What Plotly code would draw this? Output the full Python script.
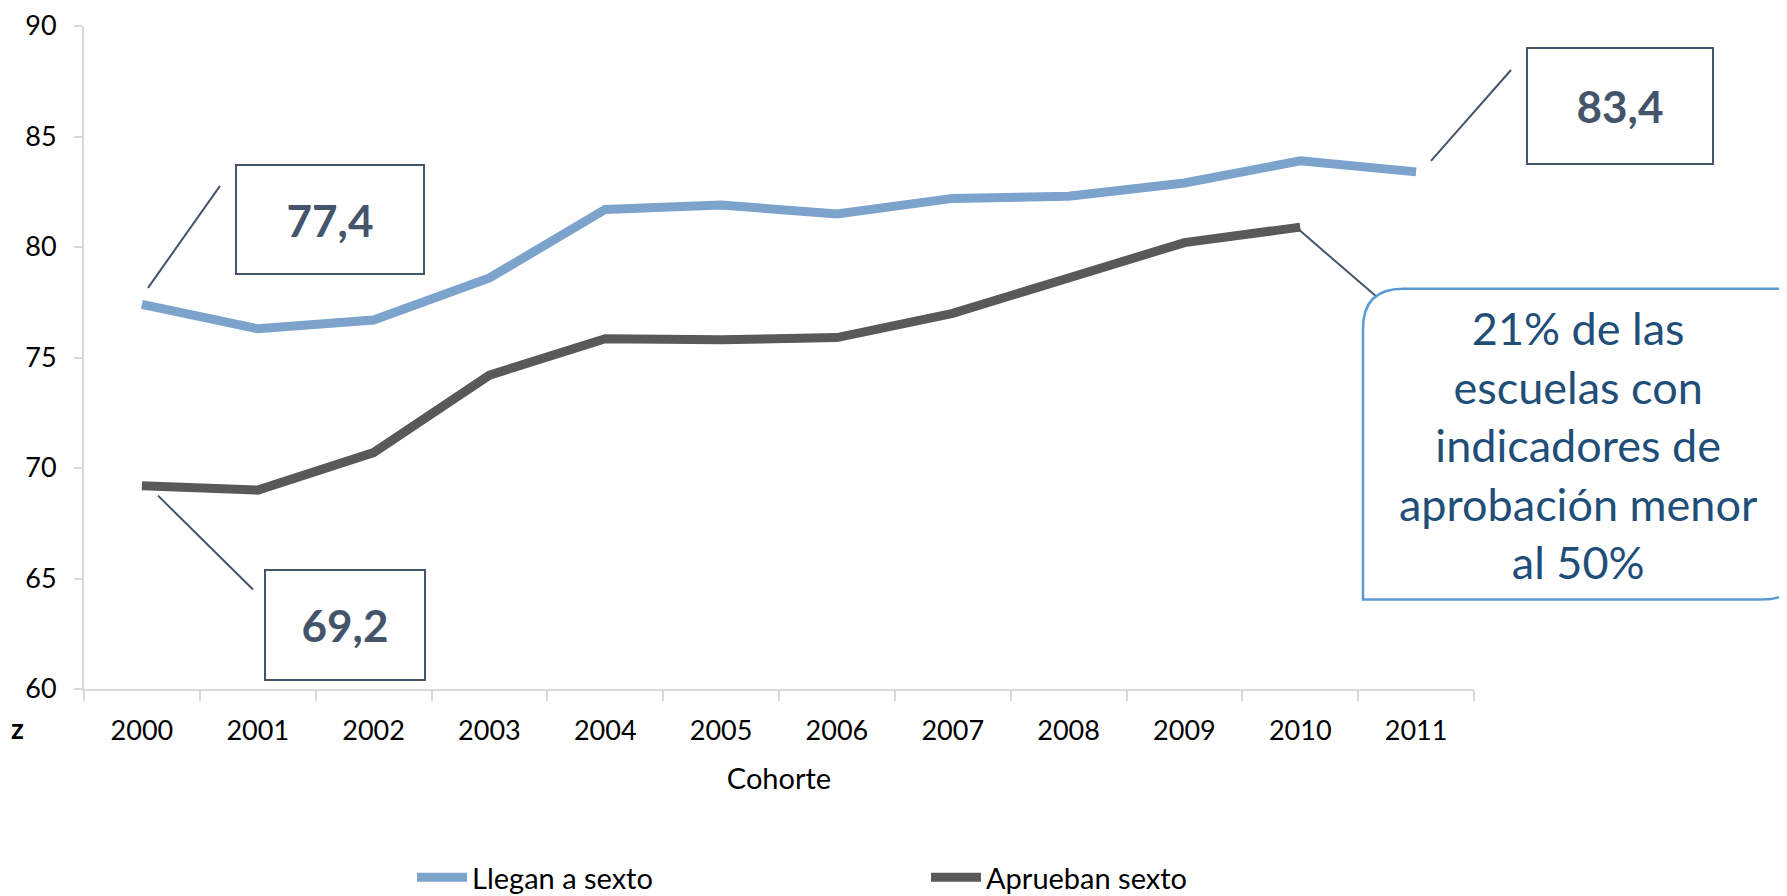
import plotly.graph_objects as go

# ---- data ----
cohortes = ["2000", "2001", "2002", "2003", "2004", "2005",
            "2006", "2007", "2008", "2009", "2010", "2011"]
llegan = [77.4, 76.3, 76.7, 78.6, 81.7, 81.9, 81.5, 82.2, 82.3, 82.9, 83.9, 83.4]
aprueban = [69.2, 69.0, 70.7, 74.2, 75.85, 75.8, 75.9, 77.0, 78.6, 80.2, 80.9, None]
series_names = ["Llegan a sexto", "Aprueban sexto"]
callout_text = "21% de las<br>escuelas con<br>indicadores de<br>aprobación menor<br>al 50%"
y_ticks = [60, 65, 70, 75, 80, 85, 90]

# ---- layout geometry (pixels) ----
W, H = 1787, 896
OFF = 8  # page body margin
L, T = 76, 18
R = W - (1474 - OFF)
B = H - (689.5 - OFF)
PW, PH = W - L - R, H - T - B


def fx(px):
    return (px - OFF - L) / PW


def fy(py):
    return (H - B - (py - OFF)) / PH


FONT = "Lato, 'Open Sans', sans-serif"
BLUE = "#7BA3CC"
GREY = "#595959"
SLATE = "#44546A"
AXIS = "#D9D9D9"

fig = go.Figure()
fig.add_trace(go.Scatter(x=cohortes, y=llegan, mode="lines", name=series_names[0],
                         line=dict(color=BLUE, width=9)))
fig.add_trace(go.Scatter(x=cohortes, y=aprueban, mode="lines", name=series_names[1],
                         line=dict(color=GREY, width=9)))


def fmt(v):
    return f"{v:.1f}".replace(".", ",")


shapes = []
annotations = []

# value boxes
boxes = [
    (fmt(llegan[0]), 330, 219.5, 186, 107),
    (fmt(aprueban[0]), 345, 625, 158, 108),
    (fmt(llegan[-1]), 1620, 106, 184, 114),
]
for txt, cx, cy, w, h in boxes:
    annotations.append(dict(text=f"<b>{txt}</b>", x=fx(cx), y=fy(cy), xref="paper", yref="paper",
                            xanchor="center", yanchor="middle", showarrow=False,
                            width=w, height=h, bordercolor=SLATE, borderwidth=2, borderpad=0,
                            bgcolor="white", font=dict(family=FONT, size=44, color=SLATE)))

# leader lines
leaders = [
    ((148, 288), (220, 186)),
    ((158, 496), (253, 590)),
    ((1431, 161), (1511, 70)),
    ((1299, 230), (1379, 299)),
]
for (x0, y0), (x1, y1) in leaders:
    shapes.append(dict(type="line", xref="paper", yref="paper",
                       x0=fx(x0), y0=fy(y0), x1=fx(x1), y1=fy(y1),
                       line=dict(color=SLATE, width=2)))

# callout box with two rounded corners
bx0, by0, bx1, by1, r = 1363, 289, 1802, 600, 40
pts = [
    ("M", bx0, by1), ("L", bx0, by0 + r), ("Q", bx0, by0, bx0 + r, by0),
    ("L", bx1, by0), ("L", bx1, by1 - r), ("Q", bx1, by1, bx1 - r, by1), ("Z",)
]
path = ""
for p in pts:
    if p[0] == "Z":
        path += " Z"
    elif p[0] == "Q":
        path += f" Q {fx(p[1])},{fy(p[2])} {fx(p[3])},{fy(p[4])}"
    else:
        path += f" {p[0]} {fx(p[1])},{fy(p[2])}"
shapes.append(dict(type="path", xref="paper", yref="paper", path=path.strip(),
                   line=dict(color="#5B9BD5", width=2.5), fillcolor="white", layer="above"))
annotations.append(dict(text=callout_text, x=fx(1578), y=fy(445), xref="paper", yref="paper",
                        xanchor="center", yanchor="middle", showarrow=False, align="center",
                        font=dict(family=FONT, size=45, color="#1F4E79")))

# stray 'z' label
annotations.append(dict(text="<b>z</b>", x=fx(17), y=fy(729), xref="paper", yref="paper",
                        xanchor="center", yanchor="middle", showarrow=False,
                        font=dict(family=FONT, size=28, color="black")))

fig.update_layout(
    width=W, height=H,
    margin=dict(l=L, r=R, t=T, b=B, autoexpand=False),
    paper_bgcolor="white", plot_bgcolor="white",
    font=dict(family=FONT, size=26, color="black"),
    shapes=shapes, annotations=annotations,
    showlegend=True,
    legend=dict(orientation="h", x=fx(412), y=fy(878), xanchor="left", yanchor="middle",
                font=dict(family=FONT, size=29, color="black"),
                entrywidth=449, entrywidthmode="pixels", itemwidth=50,
                bgcolor="rgba(0,0,0,0)"),
    xaxis=dict(type="category", range=[-0.5, 11.5], showgrid=False, zeroline=False,
               showline=True, linecolor=AXIS, linewidth=2,
               ticks="outside", tickson="boundaries", ticklen=10, tickcolor=AXIS, tickwidth=2,
               tickfont=dict(family=FONT, size=27, color="black"), ticklabelstandoff=17,
               title=dict(text="Cohorte", standoff=23,
                          font=dict(family=FONT, size=29, color="black"))),
    yaxis=dict(range=[60, 90.001], tickvals=y_ticks, showgrid=False, zeroline=False,
               showline=True, linecolor=AXIS, linewidth=2,
               ticks="outside", ticklen=8, tickcolor=AXIS, tickwidth=2,
               ticklabeloverflow="allow",
               tickfont=dict(family=FONT, size=27, color="black"), ticklabelstandoff=12),
)

fig.write_html("out.html")
